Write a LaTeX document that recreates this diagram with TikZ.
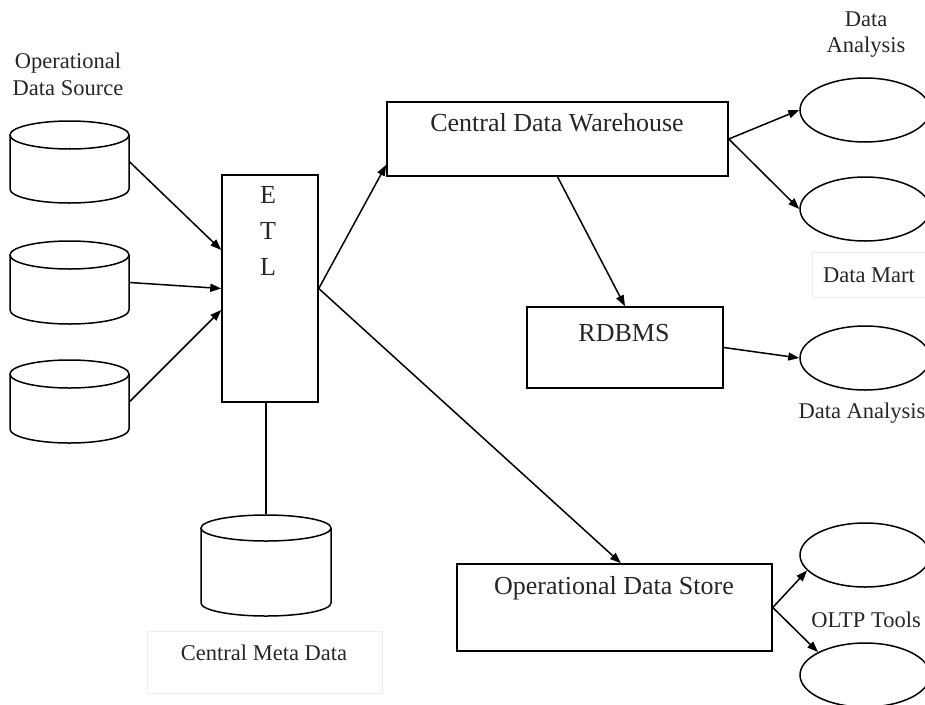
\documentclass[tikz,border=0pt]{standalone}
\usepackage{fontspec}
\setmainfont{Liberation Serif}
\usetikzlibrary{arrows.meta,calc,shapes.geometric}
\newcommand\dbcyl[6]{%
 \node[inner sep=0pt, minimum width={2*#5}, minimum height={#4-#3}] (#1) at (#2,{-(#3+#4)/2}) {};
 \draw ({#2-#5},{-(#3+#6)}) -- ({#2-#5},{-(#4-#6)}) arc[start angle=180,end angle=360,x radius=#5,y radius=#6] -- ({#2+#5},{-(#3+#6)});
 \draw (#2,{-(#3+#6)}) ellipse[x radius=#5, y radius=#6];
}
\begin{document}
\begin{tikzpicture}[x=1pt,y=1pt,
  line width=1.5pt,
  txt/.style={font=\fontsize{22.5}{27}\selectfont, text=black!85, inner sep=0pt, align=center},
  btxt/.style={txt, font=\fontsize{26}{36}\selectfont},
  boxnode/.style={draw, rectangle, inner sep=0pt},
  ell/.style={draw, ellipse, minimum width=130pt, minimum height=64pt, inner sep=0pt},
  arr/.style={-{Triangle[length=11pt,width=8pt]}},
  faint/.style={draw=black!7, line width=0.8pt, rectangle, inner sep=0pt}
]
\useasboundingbox (0,0) rectangle (925,-704);
\clip (0,0) rectangle (925,-704);

% cylinders
\dbcyl{s1}{69.5}{121}{203}{59.5}{14}
\dbcyl{s2}{69.5}{241}{324}{59.5}{14}
\dbcyl{s3}{69.5}{360}{443}{59.5}{14}
\dbcyl{meta}{266}{515}{616}{65}{13}

% boxes
\node[boxnode, minimum width=96pt, minimum height=227pt] (etl) at (270,-288.5) {};
\node[boxnode, minimum width=341pt, minimum height=74pt] (cdw) at (557.5,-139) {};
\node[boxnode, minimum width=196pt, minimum height=81pt] (rdbms) at (625,-347.5) {};
\node[boxnode, minimum width=315pt, minimum height=87pt] (ods) at (614.5,-607.5) {};

% ellipses
\node[ell] (e1) at (865,-110) {};
\node[ell] (e2) at (865,-209) {};
\node[ell] (e3) at (865,-358) {};
\node[ell] (e4) at (865,-555) {};
\node[ell] (e5) at (865,-675) {};

% faint label boxes
\node[faint, minimum width=235pt, minimum height=62pt] (metabox) at (264.5,-662) {};
\node[faint, minimum width=122pt, minimum height=45pt] (martbox) at (873,-274.5) {};

% texts
\node[txt] (lblsrc) at (68,-74) {Operational\\Data Source};
\node[btxt] (etltxt) at (268,-231) {E\\T\\L};
\node[btxt] (cdwtxt) at (557,-123) {Central Data Warehouse};
\node[btxt] (rdbmstxt) at (624,-333) {RDBMS};
\node[btxt] (odstxt) at (614,-588) {Operational Data Store};
\node[txt, font=\fontsize{22.5}{26}\selectfont] (da1) at (866,-35) {Data\\Analysis};
\node[txt] (dmart) at (869,-275) {Data Mart};
\node[txt] (da2) at (862,-413) {Data Analysis};
\node[txt] (oltp) at (866,-620) {OLTP Tools};
\node[txt] (metatxt) at (264,-653) {Central Meta Data};

% connectors
\draw[arr] (s1.east) -- ($(etl.west)+(0,38.5)$);
\draw[arr] (s2.east) -- (etl.west);
\draw[arr] (s3.east) -- ($(etl.west)+(0,-21.5)$);
\draw (etl.south -| meta.north) -- (meta.north);
\draw[arr] (etl.east) -- ($(cdw.south west)+(0,12)$);
\draw[arr] (etl.east) -- ($(ods.north)+(6.5,0)$);
\draw[arr] (cdw.south) -- (rdbms.north);
\draw[arr] (cdw.east) -- (e1.west);
\draw[arr] (cdw.east) -- (e2.west);
\draw[arr] (rdbms.east) -- (e3.west);
\draw[arr] (ods.east) -- (e4.195);
\draw[arr] (ods.east) -- (e5.154);
\end{tikzpicture}
\end{document}
